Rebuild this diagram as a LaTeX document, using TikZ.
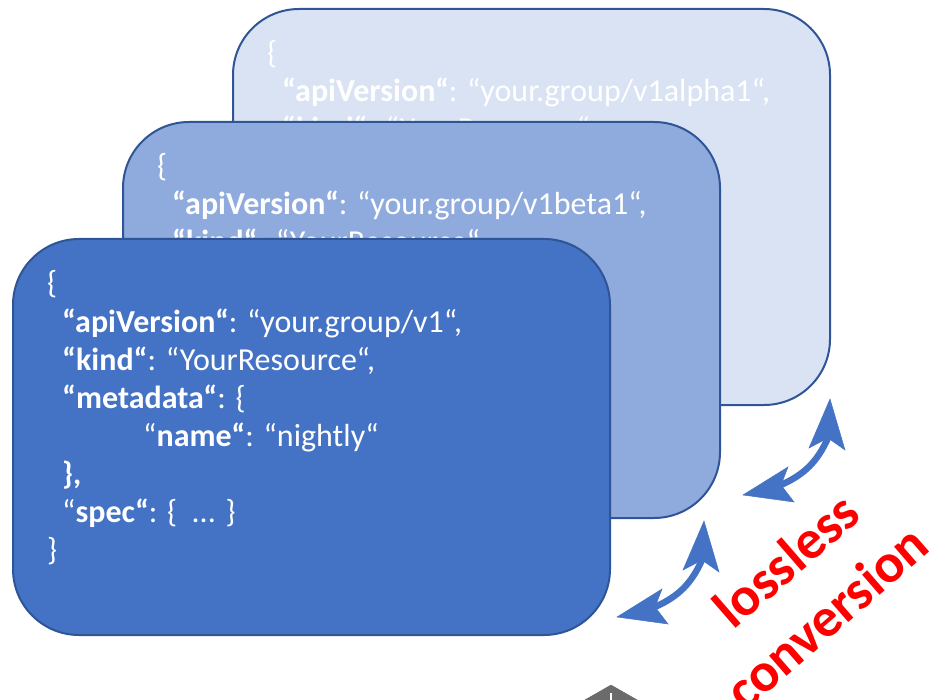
\documentclass[tikz,border=0pt]{standalone}
\usepackage{fontspec}
\setmainfont{Carlito}
\definecolor{cardA}{HTML}{DAE3F3}
\definecolor{cardB}{HTML}{8FAADC}
\definecolor{cardC}{HTML}{4472C4}
\definecolor{cardline}{HTML}{2F5597}
\definecolor{arrowblue}{HTML}{4472C4}
\definecolor{logogray}{HTML}{6B6B6B}
\tikzset{
  card/.style={draw=cardline, line width=2pt, rounded corners=66pt, anchor=north west,
    minimum width=597pt, minimum height=396pt, inner sep=0pt},
  codeline/.style={anchor=base west, inner sep=0pt, text=white, font=\fontsize{32}{38}\selectfont},
  shaft/.style={draw=arrowblue, line width=6.5pt},
  headfill/.style={fill=arrowblue, draw=arrowblue, line width=0.5pt, line join=miter},
  redlabel/.style={text=red, font=\bfseries\fontsize{55}{60}\selectfont, rotate=41, inner sep=0pt}
}
\newcommand{\convarrow}[1]{%
  \coordinate (#1t1) at (617,617);
  \coordinate (#1ba) at (662,589);
  \coordinate (#1n1) at (655,607);
  \coordinate (#1bb) at (668,624);
  \coordinate (#1i1) at (647,609);
  \coordinate (#1t2) at (704,521);
  \coordinate (#1bc) at (683,570);
  \coordinate (#1n2) at (702,560);
  \coordinate (#1bd) at (719,572);
  \coordinate (#1i2) at (702.4,552);
  \draw[shaft] (#1i1) -- (#1n1) to[out=24.5, in=-114.5] (#1n2) -- (#1i2);
  \path[headfill] (#1t1) -- (#1ba) -- (#1n1) -- (#1bb) -- cycle;
  \path[headfill] (#1t2) -- (#1bc) -- (#1n2) -- (#1bd) -- cycle;
}
\begin{document}
\begin{tikzpicture}[x=1pt,y=-1pt]
\useasboundingbox (0,0) rectangle (939,700);
% back card
\node[card, fill=cardA] (back) at (232,8) {};
\node[codeline] (b1) at (267,64) {\{};
\node[codeline] (b2) at (282,102) {\textbf{“apiVersion“}: “your.group/v1alpha1“,};
\node[codeline] (b3) at (282,140) {\textbf{“kind“}: “YourResource“,};
% middle card
\node[card, fill=cardB] (mid) at (122,121) {};
\node[codeline] (m1) at (157,177) {\{};
\node[codeline] (m2) at (172,215) {\textbf{“apiVersion“}: “your.group/v1beta1“,};
\node[codeline] (m3) at (172,253) {\textbf{“kind“}: “YourResource“,};
% front card
\node[card, fill=cardC] (front) at (12,238) {};
\node[codeline] (f1) at (47,294) {\{};
\node[codeline] (f2) at (62,332) {\textbf{“apiVersion“}: “your.group/v1“,};
\node[codeline] (f3) at (62,370) {\textbf{“kind“}: “YourResource“,};
\node[codeline] (f4) at (62,408) {\textbf{“metadata“}: \{};
\node[codeline] (f5) at (143,446) {“\textbf{name“}: “nightly“};
\node[codeline] (f6) at (62,484) {\textbf{\},}};
\node[codeline] (f7) at (62,522) {“\textbf{spec“}: \{ \ ... \}};
\node[codeline] (f8) at (47,560) {\}};
% conversion arrows
\convarrow{lo}
\begin{scope}[shift={(126,-122)}]
\convarrow{up}
\end{scope}
% label
\node[redlabel] (l1) at (786,560) {lossless};
\node[redlabel] (l2) at (826,617) {conversion};
% partial logo at bottom
\filldraw[logogray] (611,685) -- (646,705) -- (576,705) -- cycle;
\draw[white, line width=2pt] (611,693) -- (611,702);
\end{tikzpicture}
\end{document}
